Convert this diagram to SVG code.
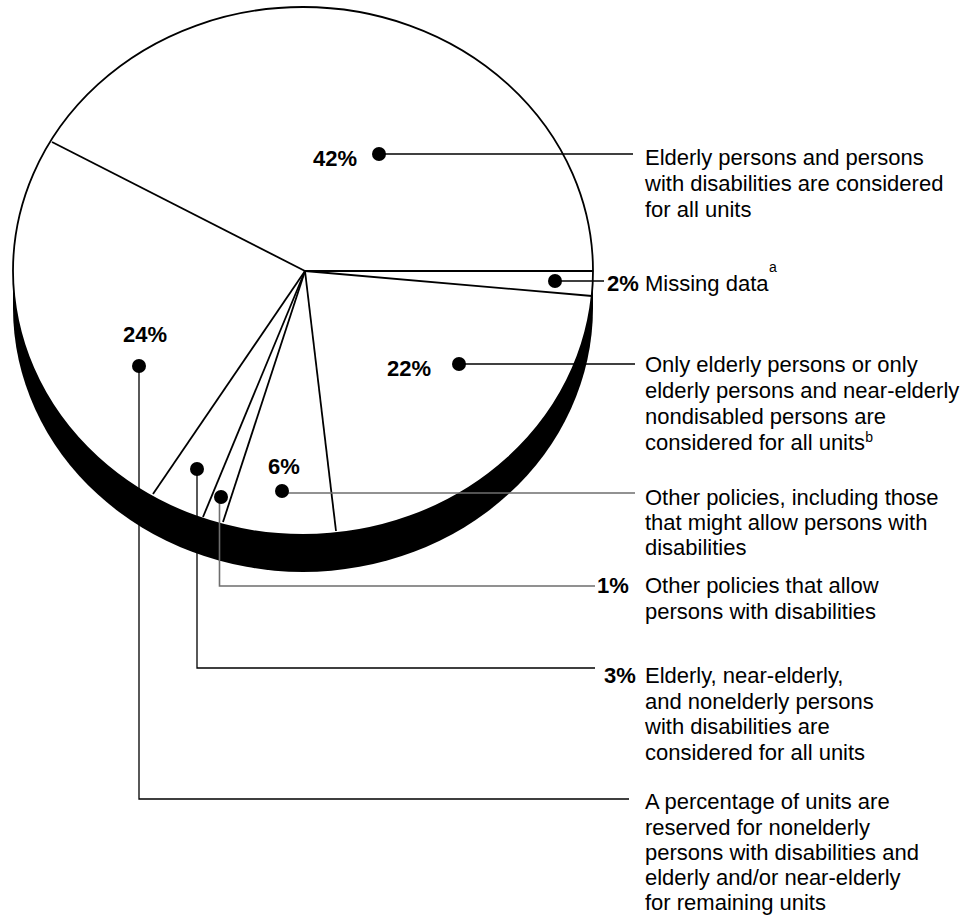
<svg xmlns="http://www.w3.org/2000/svg" width="980" height="917" viewBox="0 0 980 917">
<style>
text{font-family:"Liberation Sans",Arial,Helvetica,sans-serif;fill:#000}
.lbl{font-size:22px}
.pct{font-size:22px;font-weight:bold}
.sup{font-size:14px}
.edge{stroke:#000;stroke-width:1.8;fill:none}
.face{stroke:#000;stroke-width:1.8;fill:#fff}
.lead{stroke:#000;stroke-width:1.3;fill:none}
.grey{stroke:#6e6e6e;stroke-width:1.6;fill:none}
.dot{fill:#000}
</style>
<rect width="980" height="917" fill="#fff"/>
<g id="pie">
<path d="M13,271 L13,308 A290,264 0 0 0 593,308 L593,271 Z" fill="#000"/>
<ellipse cx="303" cy="271" rx="290" ry="264" class="face"/>
<g id="slice-lines">
<line class="edge" x1="305" y1="271" x2="52" y2="142"/>
<line class="edge" x1="305" y1="271" x2="593" y2="271"/>
<line class="edge" x1="305" y1="271" x2="592" y2="296"/>
<line class="edge" x1="305" y1="271" x2="336" y2="531"/>
<line class="edge" x1="305" y1="271" x2="223" y2="522"/>
<line class="edge" x1="305" y1="271" x2="203" y2="517"/>
<line class="edge" x1="305" y1="271" x2="153" y2="494"/>
</g>
</g>
<g id="connectors">
<line class="lead" x1="379" y1="154" x2="633" y2="154"/>
<line class="lead" x1="555" y1="281" x2="604" y2="281"/>
<line class="lead" x1="459" y1="364" x2="635" y2="364"/>
<line class="grey" x1="282" y1="493" x2="635" y2="493"/>
<polyline class="grey" points="219.5,497 219.5,586 595,586"/>
<polyline class="lead" points="197,469 197,668 595,668"/>
<polyline class="lead" points="139,366 139,799 629,799"/>
</g>
<g id="slice-42">
<circle class="dot" cx="379" cy="154" r="7"/>
<text class="pct" x="313" y="166">42%</text>
<text class="lbl" x="645" y="165">Elderly persons and persons</text>
<text class="lbl" x="645" y="191">with disabilities are considered</text>
<text class="lbl" x="645" y="217">for all units</text>
</g>
<g id="slice-2">
<circle class="dot" cx="555" cy="281" r="7"/>
<text class="pct" x="607" y="291">2%</text>
<text class="lbl" x="645" y="291">Missing data</text>
<text class="sup" x="769" y="272">a</text>
</g>
<g id="slice-22">
<circle class="dot" cx="459" cy="364" r="7"/>
<text class="pct" x="387" y="376">22%</text>
<text class="lbl" x="645" y="372">Only elderly persons or only</text>
<text class="lbl" x="645" y="398">elderly persons and near-elderly</text>
<text class="lbl" x="645" y="424">nondisabled persons are</text>
<text class="lbl" x="645" y="450">considered for all units<tspan class="sup" dy="-8">b</tspan></text>
</g>
<g id="slice-6">
<circle class="dot" cx="282" cy="491" r="7"/>
<text class="pct" x="268" y="474">6%</text>
<text class="lbl" x="645" y="505">Other policies, including those</text>
<text class="lbl" x="645" y="530">that might allow persons with</text>
<text class="lbl" x="645" y="555">disabilities</text>
</g>
<g id="slice-1">
<circle class="dot" cx="221" cy="497" r="7"/>
<text class="pct" x="597" y="593">1%</text>
<text class="lbl" x="645" y="593">Other policies that allow</text>
<text class="lbl" x="645" y="619">persons with disabilities</text>
</g>
<g id="slice-3">
<circle class="dot" cx="197" cy="469" r="7"/>
<text class="pct" x="604" y="683">3%</text>
<text class="lbl" x="645" y="683">Elderly, near-elderly,</text>
<text class="lbl" x="645" y="708.5">and nonelderly persons</text>
<text class="lbl" x="645" y="734">with disabilities are</text>
<text class="lbl" x="645" y="759.5">considered for all units</text>
</g>
<g id="slice-24">
<circle class="dot" cx="139" cy="366" r="7"/>
<text class="pct" x="123" y="342">24%</text>
<text class="lbl" x="645" y="809">A percentage of units are</text>
<text class="lbl" x="645" y="834.5">reserved for nonelderly</text>
<text class="lbl" x="645" y="860">persons with disabilities and</text>
<text class="lbl" x="645" y="885">elderly and/or near-elderly</text>
<text class="lbl" x="645" y="910">for remaining units</text>
</g>
</svg>
